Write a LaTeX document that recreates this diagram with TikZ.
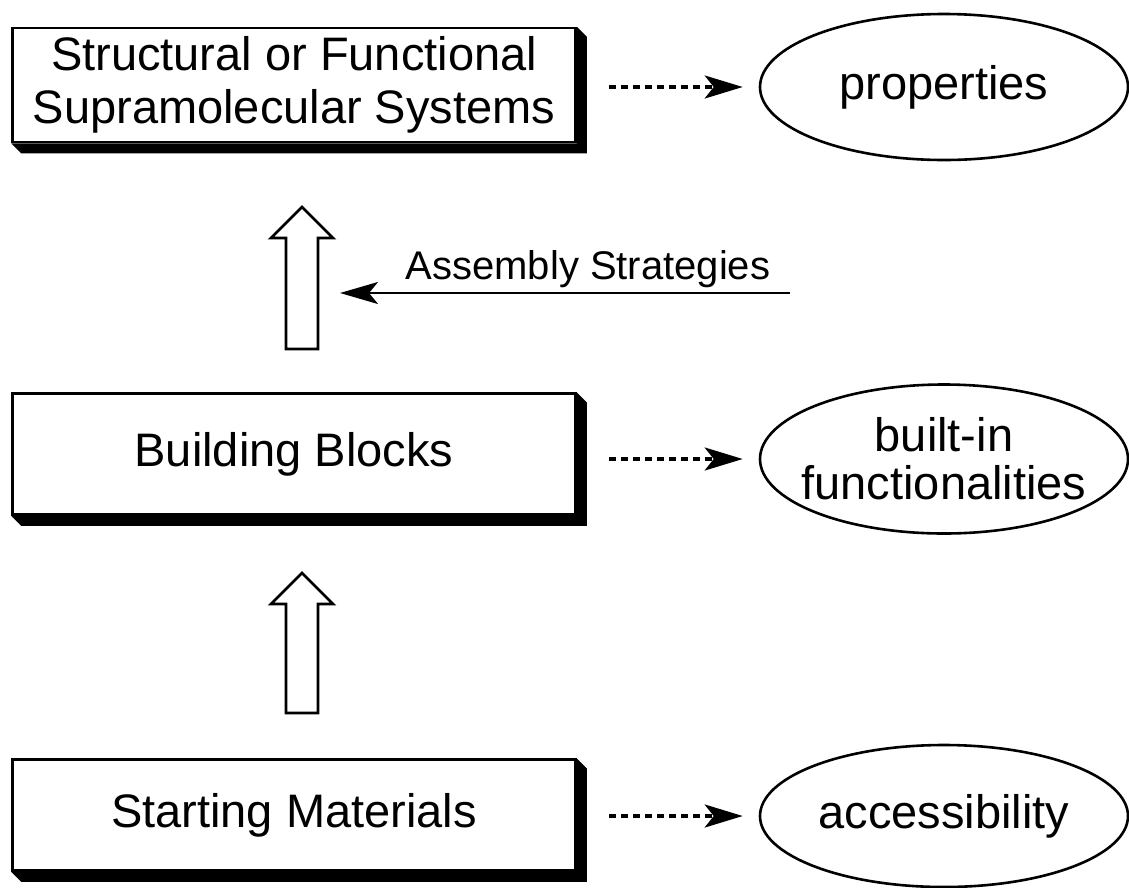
\documentclass[tikz,border=0pt]{standalone}
\usepackage{fontspec}
\setmainfont{Liberation Sans}
\usetikzlibrary{shapes.geometric,arrows.meta,calc,backgrounds}

% hollow upward block arrow: tip x, tip y, bottom y
\newcommand\blockup[3]{%
  \draw[hollow] (#1,#2) -- (#1+31,#2+31) -- (#1+16,#2+31) -- (#1+16,#3)
    -- (#1-16,#3) -- (#1-16,#2+31) -- (#1-31,#2+31) -- cycle;}

\begin{document}
\begin{tikzpicture}[x=1pt,y=-1pt,
  box/.style={draw, line width=2.5pt, fill=white, inner sep=0pt,
    minimum width=563pt, align=center, font=\fontsize{47}{53}\selectfont},
  oval/.style={ellipse, draw, line width=2.6pt, inner sep=0pt,
    minimum width=368pt, font=\fontsize{47}{48}\selectfont},
  ovaltext/.style={align=center, inner sep=0pt, font=\fontsize{47}{48}\selectfont},
  dasharrow/.style={line width=3.2pt, dash pattern=on 7pt off 5pt,
    -{Stealth[length=38pt,width=23pt,inset=9pt]},
    shorten <=32pt, shorten >=16pt},
  hollow/.style={draw, line width=2.8pt, fill=white, line join=miter},
  solidarrow/.style={line width=2.6pt, -{Stealth[length=38pt,width=22pt,inset=9pt]}},
  label/.style={inner sep=0pt, font=\fontsize{40}{44}\selectfont}
]
\useasboundingbox (0,0) rectangle (1129,887);

% the three stages
\node[box, minimum height=114pt] (sys) at (294,85) {Structural or Functional\\Supramolecular Systems};
\node[box, minimum height=121pt] (bb) at (294,454) {Building Blocks};
\node[box, minimum height=111pt] (sm) at (294,815) {Starting Materials};

% extruded shadows under the boxes
\begin{scope}[on background layer]
  \foreach \n in {sys,bb,sm}
    \fill (\n.north east) -- ++(10,10) -- ($(\n.south east)+(10,10)$)
      -- ($(\n.south west)+(10,10)$) -- (\n.south west) -- (\n.south east) -- cycle;
\end{scope}

% attributes of each stage
\node[oval, minimum height=146pt] (prop) at (944,87) {properties};
\node[oval, minimum height=149pt] (func) at (944,459) {};
\node[ovaltext] (functext) at (func) {built-in\\functionalities};
\node[oval, minimum height=142pt] (acc) at (944,816) {accessibility};

\draw[dasharrow] (sys.east |- prop.west) -- (prop.west);
\draw[dasharrow] (bb.east |- func.west) -- (func.west);
\draw[dasharrow] (sm.east |- acc.west) -- (acc.west);

% upward progression
\blockup{302}{207}{349}
\blockup{302}{573}{713}

% assembly strategies feeding in
\coordinate (asmfrom) at (790,293);
\coordinate (asmto) at (340,293);
\draw[solidarrow] (asmfrom) -- (asmto);
\node[label, anchor=base] (asm) at (588,279) {Assembly Strategies};
\end{tikzpicture}
\end{document}
